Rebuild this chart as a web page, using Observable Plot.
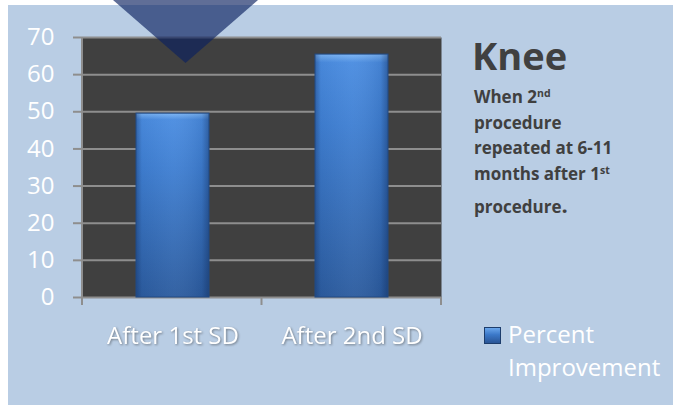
<!DOCTYPE html>
<html>
<head>
<meta charset="utf-8">
<script src="https://cdn.jsdelivr.net/npm/d3@7"></script>
<script src="https://cdn.jsdelivr.net/npm/@observablehq/plot@0.6"></script>
<style>
  html, body { margin: 0; padding: 0; background: #ffffff; }
  #wrap { position: relative; width: 673px; height: 405px; overflow: hidden; font-family: "Open Sans", sans-serif; }
  #panel { position: absolute; left: 8px; top: 5px; right: 0; bottom: 0; background: #b9cde4; }
  #chart { position: absolute; left: 0; top: 0; }
  #chart [aria-label^="y-axis"] line, #chart [aria-label^="y-axis"] path { stroke: #8e8e8e; stroke-width: 2px; }
  #title { position: absolute; left: 472px; top: 36px; font-size: 38px; font-weight: 700; color: #404040; line-height: 38px; }
  #sub { position: absolute; left: 474px; top: 84px; font-size: 17px; font-weight: 700; color: #404040; line-height: 25.7px; }
  #sub sup { font-size: 0.62em; line-height: 0; vertical-align: 0.55em; }
  #sub .last { margin-top: 5px; display: block; }
  #legend { position: absolute; left: 484px; top: 317px; font-size: 24px; color: #ffffff; line-height: 33px; }
  #legend .sw { position: absolute; left: 0; top: 10px; width: 15px; height: 15px; border: 1px solid #1d3d6c;
    background: linear-gradient(to bottom, #6aa6ec 0%, #3b78c8 45%, #2a5596 100%); }
  #legend .txt { position: absolute; left: 24px; top: 0; white-space: nowrap; }
  #tri { position: absolute; left: 113px; top: 0; width: 145px; height: 63px; background: #0a2060; opacity: 0.65;
    clip-path: polygon(0 0, 100% 0, 50% 100%); }
</style>
</head>
<body>
<div id="wrap">
  <div id="panel"></div>
  <div id="chart"></div>
  <div id="title"></div>
  <div id="sub"></div>
  <div id="legend"><div class="sw"></div><div class="txt"></div></div>
  <div id="tri"></div>
</div>
<script>
// ---- data ----
const categories = ["After 1st SD", "After 2nd SD"];
const values = [49.5, 65.4];
const yTicks = [0, 10, 20, 30, 40, 50, 60, 70];
const seriesLabel = ["Percent", "Improvement"];
const titleText = "Knee";
const subtitleLines = [
  ["When 2", "nd", ""],
  ["procedure", "", ""],
  ["repeated at 6-11", "", ""],
  ["months after 1", "st", ""],
  ["procedure", "", "."]
];

const data = categories.map((c, i) => ({category: c, value: values[i]}));

const chart = Plot.plot({
  width: 673,
  height: 405,
  marginLeft: 82,
  marginRight: 232,
  marginTop: 37,
  marginBottom: 108,
  style: {background: "transparent", color: "white", fontFamily: "'Open Sans', sans-serif", fontSize: "24px", overflow: "visible"},
  x: {domain: categories, paddingInner: 0.593, paddingOuter: 0.2966, label: null, tickSize: 0, tickPadding: 29},
  y: {domain: [0, 70], ticks: yTicks, tickSize: 9, tickPadding: 19, label: null},
  marks: [
    Plot.frame({fill: "#404040", stroke: "none"}),
    Plot.ruleY(yTicks, {stroke: "#8e8e8e", strokeWidth: 2}),
    Plot.barY(data, {x: "category", y: "value", fill: "url(#barV)"}),
    Plot.barY(data, {x: "category", y: "value", fill: "url(#barH)", stroke: "#214a85", strokeWidth: 1})
  ]
});

const svg = d3.select(chart);
const defs = svg.insert("defs", ":first-child");
const gv = defs.append("linearGradient").attr("id", "barV").attr("x1", 0).attr("y1", 0).attr("x2", 0).attr("y2", 1);
[[0, "#7ab4f4"], [0.035, "#4a8ce0"], [0.3, "#3f7fd2"], [1, "#2c5c9f"]].forEach(([o, c]) =>
  gv.append("stop").attr("offset", o).attr("stop-color", c));
const gh = defs.append("linearGradient").attr("id", "barH").attr("x1", 0).attr("y1", 0).attr("x2", 1).attr("y2", 0);
[[0, "#0a1e46", 0.35], [0.08, "#0a1e46", 0.05], [0.5, "#ffffff", 0.04], [0.9, "#0a1e46", 0.1], [1, "#0a1e46", 0.4]].forEach(([o, c, a]) =>
  gh.append("stop").attr("offset", o).attr("stop-color", c).attr("stop-opacity", a));

// axis lines and category boundary ticks derived from the scales
const xs = chart.scale("x");
const ys = chart.scale("y");
const [r0, r1] = xs.range;
const yBottom = Math.max(...ys.range), yTop = Math.min(...ys.range);
const n = categories.length;
const g = svg.append("g").attr("stroke", "#8e8e8e").attr("stroke-width", 2);
g.append("line").attr("x1", r0).attr("x2", r0).attr("y1", yTop).attr("y2", yBottom + 8);
d3.range(n + 1).forEach(i => {
  const x = r0 + i * (r1 - r0) / n;
  g.append("line").attr("x1", x).attr("x2", x).attr("y1", yBottom).attr("y2", yBottom + 8);
});
svg.selectAll('[aria-label^="x-axis"]').style("filter", "drop-shadow(1px 1.5px 1px rgba(30,30,30,0.45))");

document.getElementById("chart").appendChild(chart);

// text blocks
document.getElementById("title").textContent = titleText;
const sub = document.getElementById("sub");
subtitleLines.forEach((ln, i) => {
  const span = document.createElement("span");
  if (i === subtitleLines.length - 1) span.className = "last";
  span.append(ln[0]);
  if (ln[1]) { const s = document.createElement("sup"); s.textContent = ln[1]; span.append(s); }
  if (ln[2]) { const p = document.createElement("span"); p.style.fontSize = "22px"; p.textContent = ln[2]; span.append(p); }
  sub.append(span);
  if (i < subtitleLines.length - 1) sub.append(document.createElement("br"));
});
const txt = document.querySelector("#legend .txt");
txt.innerHTML = "";
seriesLabel.forEach((w, i) => { if (i) txt.append(document.createElement("br")); txt.append(w); });
</script>
</body>
</html>
